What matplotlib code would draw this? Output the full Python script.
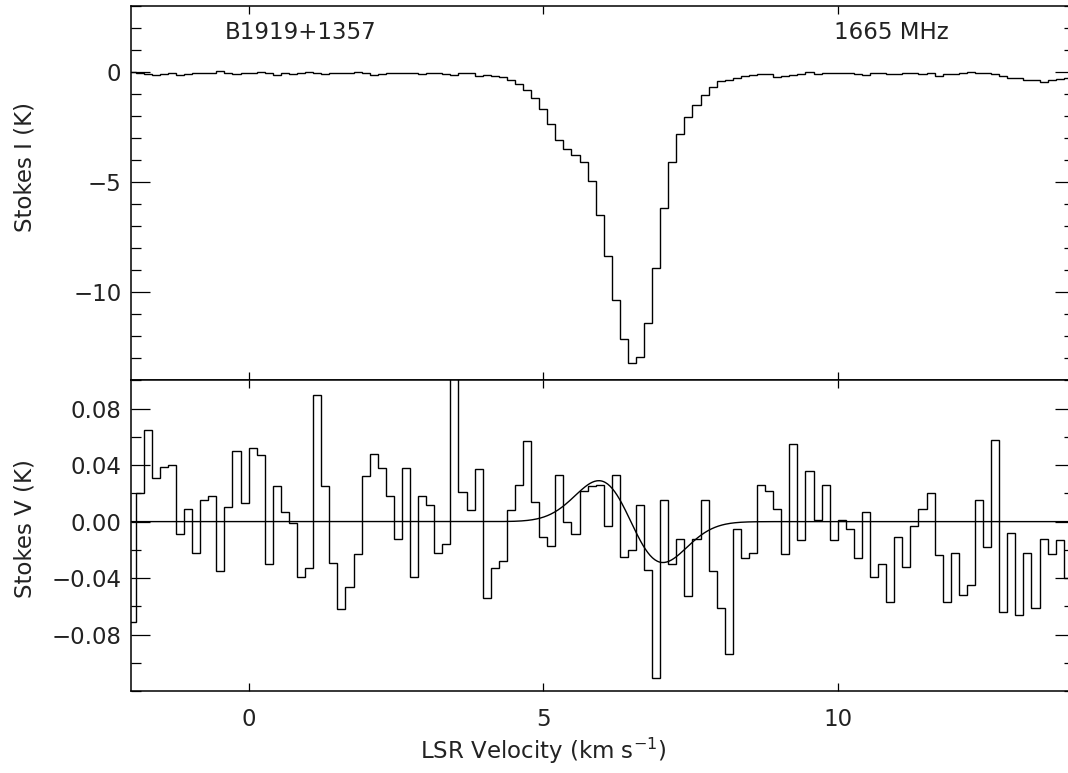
import numpy as np
import matplotlib.pyplot as plt
from matplotlib.ticker import MultipleLocator

plt.rcParams['font.family'] = ['DejaVu Sans']
plt.rcParams['mathtext.default'] = 'regular'
plt.rcParams['text.color'] = '#222222'

# channel grid (km/s): first channel left edge and width
chan_start = -2.059
chan_width = 0.137

# Stokes I (K), one value per channel
stokes_i = [
    0.00, -0.05, -0.10, -0.13, -0.10, -0.07, -0.13, -0.12, -0.06, -0.03,
    -0.03, 0.02, -0.04, -0.10, -0.06, -0.06, -0.02, -0.04, -0.13, -0.07,
    -0.10, -0.07, -0.02, -0.06, -0.12, -0.07, -0.07, -0.04, -0.02, -0.07,
    -0.15, -0.10, -0.03, -0.06, -0.03, -0.07, -0.10, -0.07, -0.06, -0.09,
    -0.15, -0.03, -0.07, -0.19, -0.13, -0.18, -0.22, -0.38, -0.56, -0.81,
    -1.19, -1.69, -2.35, -3.11, -3.52, -3.79, -4.09, -4.95, -6.50, -8.34,
    -10.35, -12.13, -13.19, -12.95, -11.40, -8.88, -6.16, -4.11, -2.82, -2.04,
    -1.50, -1.07, -0.68, -0.43, -0.36, -0.26, -0.19, -0.15, -0.12, -0.09,
    -0.24, -0.19, -0.13, -0.10, 0.00, -0.10, -0.06, -0.04, -0.03, -0.04,
    -0.10, -0.13, -0.03, -0.07, -0.12, -0.09, -0.07, -0.04, -0.10, -0.03,
    -0.17, -0.12, -0.10, -0.04, -0.02, -0.04, -0.07, -0.12, -0.17, -0.26,
    -0.26, -0.38, -0.39, -0.48, -0.38, -0.33, -0.26, -0.25,
]

# Stokes V (K), same channels
stokes_v = [
    -0.071, 0.020, 0.065, 0.031, 0.039, 0.040, -0.009, 0.009, -0.022, 0.015,
    0.018, -0.035, 0.010, 0.050, 0.013, 0.052, 0.047, -0.030, 0.025, 0.007,
    -0.001, -0.039, -0.033, 0.090, 0.025, -0.029, -0.062, -0.046, -0.023, 0.032,
    0.048, 0.038, 0.018, -0.012, 0.038, -0.039, 0.018, 0.012, -0.022, -0.016,
    0.120, 0.021, 0.008, 0.037, -0.054, -0.033, -0.028, 0.008, 0.026, 0.057,
    0.014, -0.011, -0.017, 0.033, 0.000, -0.009, 0.022, 0.025, 0.026, -0.003,
    0.033, -0.025, -0.020, 0.012, -0.034, -0.111, 0.015, -0.030, -0.012, -0.053,
    -0.012, 0.015, -0.035, -0.061, -0.094, -0.005, -0.026, -0.022, 0.026, 0.022,
    0.009, -0.023, 0.055, -0.013, 0.036, 0.001, 0.026, -0.013, 0.001, -0.005,
    -0.026, 0.007, -0.039, -0.030, -0.057, -0.011, -0.032, -0.003, 0.009, 0.020,
    -0.024, -0.057, -0.022, -0.052, -0.045, 0.015, -0.018, 0.058, -0.064, -0.008,
    -0.066, -0.022, -0.061, -0.012, -0.023, -0.013, -0.040, -0.040,
]

# Zeeman fit (derivative of a gaussian component)
fit_v0 = 6.485
fit_sigma = 0.545
fit_peak = 0.029

edges = chan_start + chan_width * np.arange(len(stokes_i) + 1)

vfit = np.linspace(-2.0, 14.0, 800)
u = (vfit - fit_v0) / fit_sigma
vfit_model = -fit_peak * np.sqrt(np.e) * u * np.exp(-0.5 * u**2)

fig = plt.figure(figsize=(10.68, 7.73), dpi=100)
ax1 = fig.add_axes([0.1227, 0.5078, 0.8825, 0.4848])
ax2 = fig.add_axes([0.1227, 0.1061, 0.8825, 0.4017], sharex=ax1)

lw = 1.0
ax1.stairs(stokes_i, edges, color='black', lw=lw, baseline=None)
ax2.stairs(stokes_v, edges, color='black', lw=lw, baseline=None)
ax2.plot(vfit, vfit_model, color='black', lw=lw)

ax1.set_xlim(-2.0, 14.0)
ax1.set_ylim(-14, 3)
ax2.set_ylim(-0.12, 0.10)

ax1.yaxis.set_major_locator(MultipleLocator(5))
ax1.yaxis.set_minor_locator(MultipleLocator(1))
ax2.yaxis.set_major_locator(MultipleLocator(0.04))
ax2.yaxis.set_minor_locator(MultipleLocator(0.02))
ax2.xaxis.set_major_locator(MultipleLocator(5))
ax2.set_yticks([-0.08, -0.04, 0.0, 0.04, 0.08])
ax2.yaxis.set_major_formatter(plt.FuncFormatter(lambda y, p: f"{y:.2f}".replace('-', '\u2212')))

fs = 16.5
for ax in (ax1, ax2):
    for s in ax.spines.values():
        s.set_linewidth(1.1)
    ax.tick_params(axis='both', which='both', direction='in', top=True, right=True,
                   labelsize=fs, width=0.9, labelcolor='#222222')
    ax.tick_params(axis='y', which='major', length=13.5, pad=7)
    ax.tick_params(axis='y', which='minor', length=7)
    ax.tick_params(axis='x', which='major', length=5.5, pad=12)
    ax.tick_params(axis='x', which='minor', length=0)

ax1.tick_params(axis='x', labelbottom=False)

ax1.set_ylabel('Stokes I (K)', fontsize=fs, color='#222222')
ax1.yaxis.set_label_coords(-0.100, 0.57)
ax2.set_ylabel('Stokes V (K)', fontsize=fs, color='#222222')
ax2.yaxis.set_label_coords(-0.100, 0.524)
ax2.set_xlabel('LSR Velocity (km s$^{-1}$)', fontsize=fs, color='#222222')
ax2.xaxis.set_label_coords(0.437, -0.145)
ax2.xaxis.label.set_va('top')

ax1.text(0.88, 1.78, 'B1919+1357', fontsize=fs, ha='center', va='center')
ax1.text(10.9, 1.78, '1665 MHz', fontsize=fs, ha='center', va='center')

fig.savefig('out.png', dpi=100)
